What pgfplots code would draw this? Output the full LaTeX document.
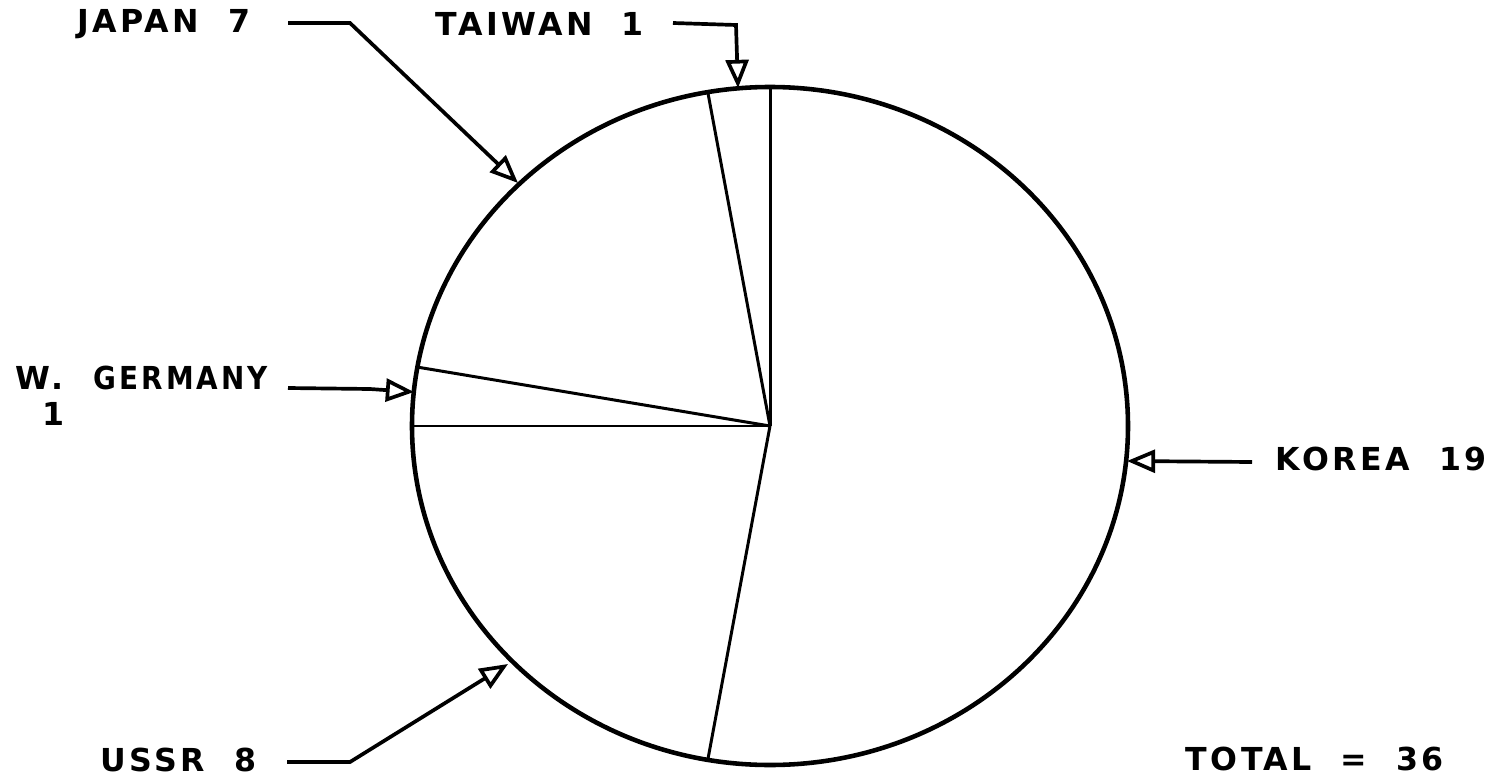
\documentclass[border=0pt]{standalone}
\usepackage{pgfplots}
\pgfplotsset{compat=1.18}
\usetikzlibrary{arrows.meta}
\usepackage{fontspec}
\newfontfamily\plotfont[LetterSpace=11,WordSpace=2.0]{DejaVu Sans Bold}

% slice boundaries (pixel frame of the reference, y down)
% Korea 19, USSR 8, W. Germany 1, Japan 7, Taiwan 1 -> total 36
\begin{document}
\begin{tikzpicture}
\begin{axis}[
    width=14.89cm, height=7.79cm, scale only axis,
    xmin=0, xmax=1489, ymin=0, ymax=779,
    y dir=reverse,
    hide axis, clip=false,
]
\draw[line width=1.3pt] (axis cs:770,426) ellipse [x radius=358, y radius=339];
% radial slice edges
\addplot[black, line width=0.85pt, mark=none] coordinates {(770,426) (770,87)};
\addplot[black, line width=0.85pt, mark=none] coordinates {(770,426) (707.8,92.2)};
\addplot[black, line width=0.85pt, mark=none] coordinates {(770,426) (417.4,367.1)};
\addplot[black, line width=0.85pt, mark=none] coordinates {(770,426) (412,426)};
\addplot[black, line width=0.85pt, mark=none] coordinates {(770,426) (707.8,759.8)};

% leaders
\tikzset{lead/.style={line width=1.05pt, -{Triangle[open,length=8pt,width=6.5pt,line width=1.05pt]}}}
\draw[lead] (axis cs:288,23) -- (axis cs:350,23) -- (axis cs:518,183);
\draw[lead] (axis cs:673,23) -- (axis cs:736,25) -- (axis cs:738,88);
\draw[lead] (axis cs:288,388) -- (axis cs:370,389) -- (axis cs:414,392);
\draw[lead] (axis cs:1252,462) -- (axis cs:1127,461);
\draw[lead] (axis cs:287,762) -- (axis cs:350,762) -- (axis cs:508,664);

\tikzset{lab/.style={font=\plotfont\fontsize{9}{10}\selectfont, inner sep=0pt}}
\node[lab, anchor=west] at (axis cs:77,24) {JAPAN 7};
\node[lab, anchor=west] at (axis cs:435,24) {TAIWAN 1};
\node[lab, anchor=west] at (axis cs:15,378) {W.};
\node[lab, anchor=west] at (axis cs:93,378) {\scalebox{0.88}[1]{GERMANY}};
\node[lab, anchor=west] at (axis cs:42,414) {1};
\node[lab, anchor=west] at (axis cs:1275,459) {KOREA 19};
\node[lab, anchor=west] at (axis cs:100,760) {USSR 8};
\node[lab, anchor=west] at (axis cs:1185,759) {TOTAL = 36};
\end{axis}
\pgfresetboundingbox
\path[use as bounding box] (current axis.south west) rectangle (current axis.north east);
\end{tikzpicture}
\end{document}
